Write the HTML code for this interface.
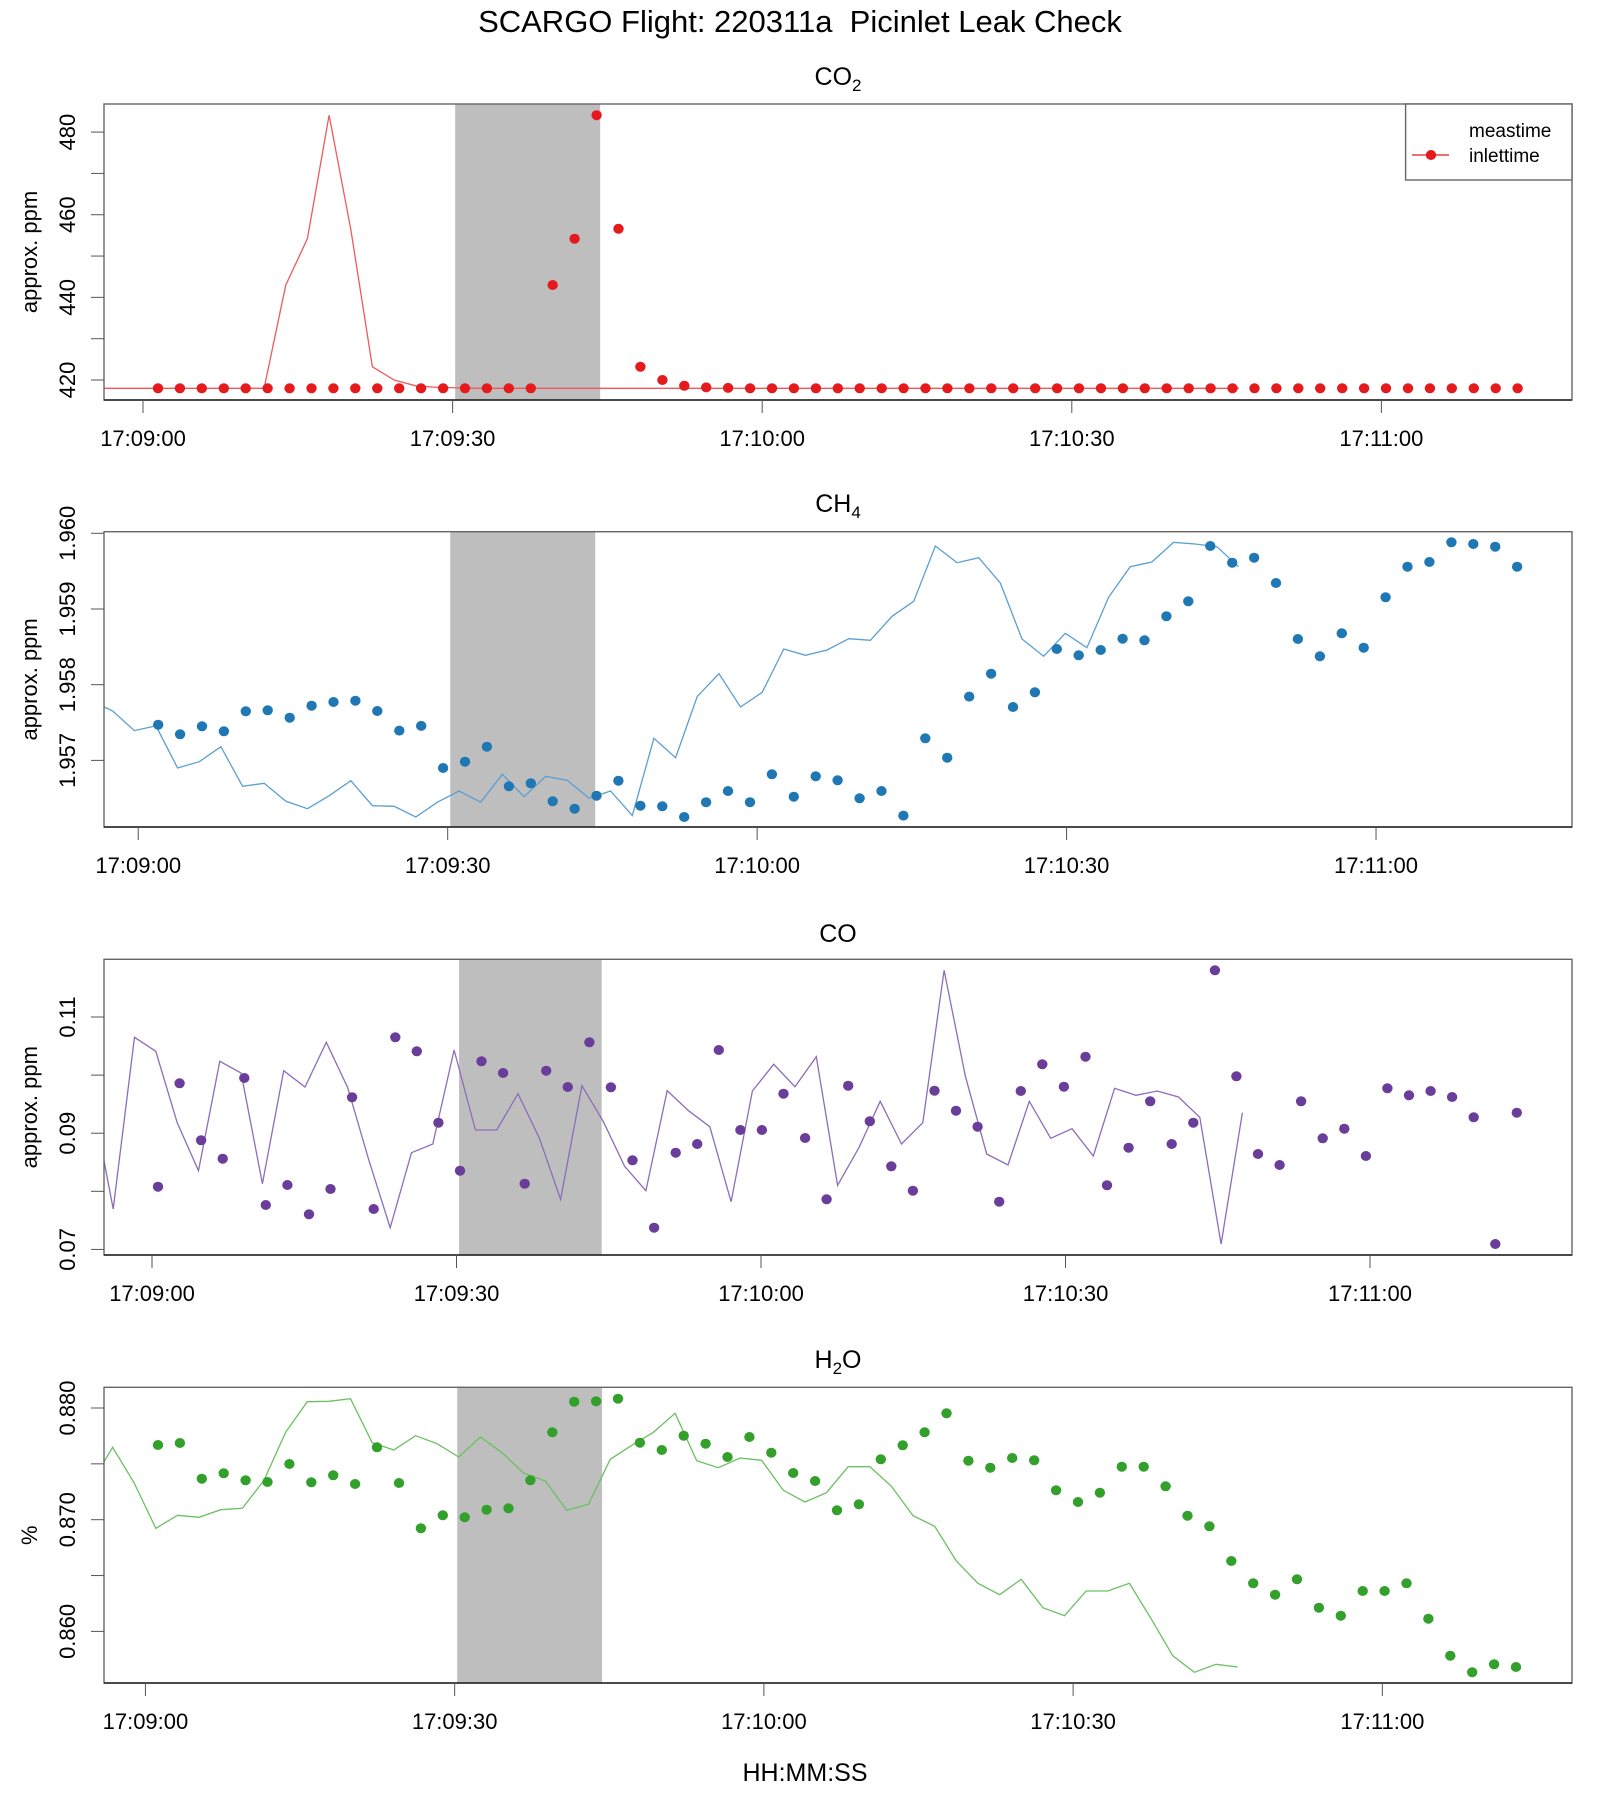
<!DOCTYPE html>
<html>
<head>
<meta charset="utf-8">
<style>
  html, body { margin: 0; padding: 0; background: #fff; }
  svg { display: block; font-family: "Liberation Sans", Arial, sans-serif; }
</style>
</head>
<body>
<svg id="chart" width="1600" height="1800" viewBox="0 0 1600 1800" xmlns="http://www.w3.org/2000/svg">
  <text x="800" y="32" font-size="31" text-anchor="middle" fill="#000" xml:space="preserve" style="white-space:pre">SCARGO Flight: 220311a  Picinlet Leak Check</text>
  <text x="805" y="1781" font-size="25" text-anchor="middle" fill="#000">HH:MM:SS</text>
</svg>
<script>
// ---- data ----
const xTickSeconds = [0, 30, 60, 90, 120];
const xTickLabels = ["17:09:00", "17:09:30", "17:10:00", "17:10:30", "17:11:00"];
const leakWindow = [30.25, 44.3];

const co2Values = [418.0,418.0,418.0,418.0,418.0,418.0,418.0,418.0,418.0,418.0,418.0,418.0,418.0,418.0,418.0,418.0,418.0,418.0,
  443.0,454.2,484.1,456.6,423.2,420.0,418.6,418.2,418.1,418.0,418.0,418.0,418.0,418.0,418.0,418.0,418.0,418.0,418.0,418.0,418.0,
  418.0,418.0,418.0,418.0,418.0,418.0,418.0,418.0,418.0,418.0,418.0,418.0,418.0,418.0,418.0,418.0,418.0,418.0,418.0,418.0,418.0,
  418.0,418.0,418.0];
const ch4Values = [1.957472,1.957345,1.957450,1.957384,1.957649,1.957662,1.957564,1.957723,1.957771,1.957789,1.957653,1.957393,
  1.957455,1.956900,1.956983,1.957181,1.956658,1.956697,1.956460,1.956362,1.956534,1.956732,1.956402,1.956393,1.956252,1.956447,
  1.956596,1.956447,1.956816,1.956520,1.956790,1.956737,1.956499,1.956596,1.956270,1.957292,1.957036,1.957842,1.958145,1.957705,
  1.957900,1.958472,1.958388,1.958458,1.958608,1.958587,1.958903,1.959102,1.959832,1.959612,1.959678,1.959343,1.958604,1.958375,
  1.958679,1.958489,1.959155,1.959559,1.959621,1.959881,1.959859,1.959823,1.959559];
const coValues = [0.08079,0.09859,0.08878,0.08561,0.09950,0.07764,0.08108,0.07604,0.08040,0.09618,0.07695,0.10650,0.10410,
  0.09181,0.08355,0.10237,0.10036,0.08131,0.10076,0.09795,0.10564,0.09790,0.08533,0.07374,0.08665,0.08814,0.10432,0.09055,
  0.09055,0.09680,0.08917,0.07862,0.09818,0.09205,0.08430,0.08011,0.09732,0.09387,0.09112,0.07821,0.09726,0.10186,0.09801,
  0.10317,0.08103,0.08751,0.09549,0.08814,0.09181,0.11804,0.09979,0.08642,0.08453,0.09549,0.08912,0.09078,0.08608,0.09773,
  0.09652,0.09726,0.09623,0.09273,0.07093,0.09353];
const h2oValues = [0.876687,0.876866,0.873671,0.874153,0.873523,0.873375,0.874987,0.873345,0.873971,0.873196,0.876478,0.873286,
  0.869227,0.870391,0.870212,0.870898,0.871018,0.873523,0.877823,0.880567,0.880597,0.880836,0.876896,0.876240,0.877523,0.876806,
  0.875613,0.877404,0.875998,0.874181,0.873464,0.870840,0.871379,0.875403,0.876657,0.877823,0.879522,0.875284,0.874657,0.875524,
  0.875314,0.872628,0.871584,0.872419,0.874749,0.874749,0.872987,0.870361,0.869406,0.866303,0.864303,0.863289,0.864662,0.862125,
  0.861406,0.863617,0.863617,0.864303,0.861138,0.857825,0.856334,0.857050,0.856811];

const co2Ticks = [420, 430, 440, 450, 460, 470, 480];
const co2TickLabels = ["420", "", "440", "", "460", "", "480"];
const ch4Ticks = [1.957, 1.958, 1.959, 1.960];
const ch4TickLabels = ["1.957", "1.958", "1.959", "1.960"];
const coTicks = [0.07, 0.08, 0.09, 0.10, 0.11];
const coTickLabels = ["0.07", "", "0.09", "", "0.11"];
const h2oTicks = [0.860, 0.865, 0.870, 0.875, 0.880];
const h2oTickLabels = ["0.860", "", "0.870", "", "0.880"];

// ---- layout (not data) ----
const NS = "http://www.w3.org/2000/svg";
const svg = document.getElementById("chart");
const DT = 2.125, LINE_DT = 2.099, LAG = 25.4;
const L = 104, R = 1572;
const DOT_RX = 5.2, DOT_RY = 5.0;

const panels = [
  { key: "co2", title: ["CO", "2"], titleY: 85, top: 104, bottom: 400, tmin: -3.78, tmax: 138.47, ymin: 415.16, ymax: 486.8,
    t0: 1.45, vals: co2Values, ticks: co2Ticks, labels: co2TickLabels, ylab: "approx. ppm", dot: "#E41A1C", line: "#EE5A5C", legend: true },
  { key: "ch4", title: ["CH", "4"], titleY: 512, top: 531.7, bottom: 827, tmin: -3.32, tmax: 139.0, ymin: 1.95612, ymax: 1.960021,
    t0: 1.93, vals: ch4Values, ticks: ch4Ticks, labels: ch4TickLabels, ylab: "approx. ppm", dot: "#1F78B4", line: "#5B9FD2" },
  { key: "co", title: ["CO", ""], titleY: 942, top: 959.3, bottom: 1255, tmin: -4.73, tmax: 139.9, ymin: 0.06904, ymax: 0.11993,
    t0: 0.59, vals: coValues, ticks: coTicks, labels: coTickLabels, ylab: "approx. ppm", dot: "#6A3D9A", line: "#8D6DBA" },
  { key: "h2o", title: ["H", "2", "O"], titleY: 1368, top: 1387.3, bottom: 1683, tmin: -4.02, tmax: 138.4, ymin: 0.85538, ymax: 0.881853,
    t0: 1.22, vals: h2oValues, ticks: h2oTicks, labels: h2oTickLabels, ylab: "%", dot: "#33A02C", line: "#6CC063" }
];

function mk(tag, attrs, parent) {
  const e = document.createElementNS(NS, tag);
  for (const k in attrs) e.setAttribute(k, attrs[k]);
  (parent || svg).appendChild(e);
  return e;
}

panels.forEach(function (p, pi) {
  const xs = function (t) { return L + (t - p.tmin) / (p.tmax - p.tmin) * (R - L); };
  const ys = function (v) { return p.bottom - (v - p.ymin) / (p.ymax - p.ymin) * (p.bottom - p.top); };

  const g = mk("g", {});
  
  

  const clip = mk("clipPath", { id: "clip-" + p.key }, g);
  mk("rect", { x: L, y: p.top, width: R - L, height: p.bottom - p.top }, clip);

  const band = mk("rect", { x: xs(leakWindow[0]), y: p.top, width: xs(leakWindow[1]) - xs(leakWindow[0]), height: p.bottom - p.top, fill: "#BEBEBE" }, g);
  
  

  const pts = p.vals.map(function (v, j) { return xs(p.t0 - LAG + j * LINE_DT).toFixed(1) + "," + ys(v).toFixed(1); }).join(" ");
  const line = mk("polyline", { points: pts, fill: "none", stroke: p.line, "stroke-width": 1.3, "clip-path": "url(#clip-" + p.key + ")" }, g);
  
  

  p.vals.forEach(function (v, k) {
    const c = mk("ellipse", { cx: xs(p.t0 + k * DT).toFixed(1), cy: ys(v).toFixed(1), rx: DOT_RX, ry: DOT_RY, fill: p.dot }, g);
    
    
  });

  const box = mk("rect", { x: L, y: p.top, width: R - L, height: p.bottom - p.top, fill: "none", stroke: "#666", "stroke-width": 1.4 }, g);
  
  
  mk("line", { x1: L, x2: R, y1: p.bottom, y2: p.bottom, stroke: "#222", "stroke-width": 1.4 }, g);

  xTickSeconds.forEach(function (t, i) {
    const x = xs(t);
    mk("line", { x1: x, x2: x, y1: p.bottom, y2: p.bottom + 13, stroke: "#555", "stroke-width": 1 }, g);
    const tl = mk("text", { x: x, y: p.bottom + 46, "font-size": 22, "text-anchor": "middle", fill: "#000" }, g);
    tl.textContent = xTickLabels[i];
    
    
  });

  p.ticks.forEach(function (v, i) {
    const y = ys(v);
    mk("line", { x1: L - 13, x2: L, y1: y, y2: y, stroke: "#555", "stroke-width": 1 }, g);
    if (p.labels[i]) {
      const yl = mk("text", { x: 0, y: 0, "font-size": 22, "text-anchor": "middle", fill: "#000", transform: "translate(75," + y.toFixed(1) + ") rotate(-90)" }, g);
      yl.textContent = p.labels[i];
      
      
    }
  });

  const yt = mk("text", { x: 0, y: 0, "font-size": 22, "text-anchor": "middle", fill: "#000", transform: "translate(37," + ((p.top + p.bottom) / 2).toFixed(1) + ") rotate(-90)" }, g);
  yt.textContent = p.ylab;
  
  

  const tt = mk("text", { x: (L + R) / 2, y: p.titleY, "font-size": 25, "text-anchor": "middle", fill: "#000" }, g);
  
  
  const s1 = mk("tspan", {}, tt); s1.textContent = p.title[0];
  if (p.title[1]) { const s2 = mk("tspan", { "font-size": 17, dy: 6 }, tt); s2.textContent = p.title[1]; }
  if (p.title[2]) { const s3 = mk("tspan", { dy: -6 }, tt); s3.textContent = p.title[2]; }

  if (p.legend) {
    const lg = mk("g", {}, g);
    
    
    mk("rect", { x: 1405.6, y: 104, width: R - 1405.6, height: 76, fill: "#fff", stroke: "#666", "stroke-width": 1.4 }, lg);
    const t1 = mk("text", { x: 1469, y: 137, "font-size": 19, fill: "#000" }, lg);
    t1.textContent = "meastime";
    
    
    mk("line", { x1: 1412, x2: 1449, y1: 155, y2: 155, stroke: "#E41A1C", "stroke-width": 1.3 }, lg);
    mk("ellipse", { cx: 1431, cy: 155, rx: DOT_RX, ry: DOT_RY, fill: "#E41A1C" }, lg);
    const t2 = mk("text", { x: 1469, y: 162, "font-size": 19, fill: "#000" }, lg);
    t2.textContent = "inlettime";
    
    
  }
});
</script>
</body>
</html>
